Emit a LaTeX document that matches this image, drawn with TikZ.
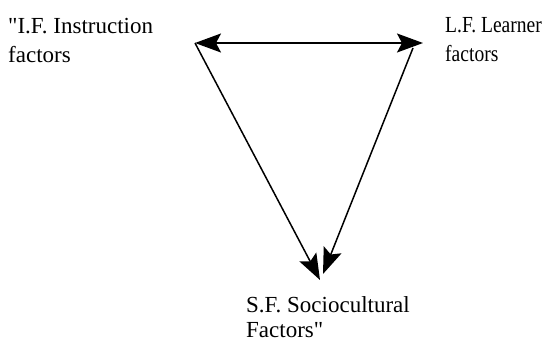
\documentclass[tikz,border=0pt]{standalone}
\usepackage{fontspec}
\setmainfont{Liberation Serif}
\newfontfamily\labelfont{Liberation Serif}
\newfontfamily\narrowlabelfont{Liberation Serif}[FakeStretch=0.85]
\usetikzlibrary{arrows.meta}
\begin{document}
\begin{tikzpicture}[x=1pt,y=-1pt,
  label/.style={inner sep=0pt, anchor=north west, align=left},
  conn/.style={line width=1.5pt, black},
  head/.style={-{Stealth[length=26pt,width=19pt,inset=5pt]}},
  heads/.style={{Stealth[length=26pt,width=19pt,inset=5pt]}-{Stealth[length=26pt,width=19pt,inset=5pt]}}]
\useasboundingbox (0,0) rectangle (547,342);
\node[label, font=\labelfont\fontsize{23}{29}\selectfont] (IF) at (8,18) {"I.F. Instruction\\factors};
\node[label, font=\narrowlabelfont\fontsize{23}{29}\selectfont] (LF) at (445,17) {L.F. Learner\\factors};
\node[label, font=\labelfont\fontsize{23}{25}\selectfont] (SF) at (246,296) {S.F. Sociocultural\\Factors"};
\coordinate (I) at (195,43);
\coordinate (L) at (423,43);
\coordinate (Lb) at (413,48);
\coordinate (S1) at (320,280);
\coordinate (S2) at (323,274);
\draw[conn,heads] (I) -- (L);
\draw[conn,head] (I) -- (S1);
\draw[conn,head] (Lb) -- (S2);
\end{tikzpicture}
\end{document}
